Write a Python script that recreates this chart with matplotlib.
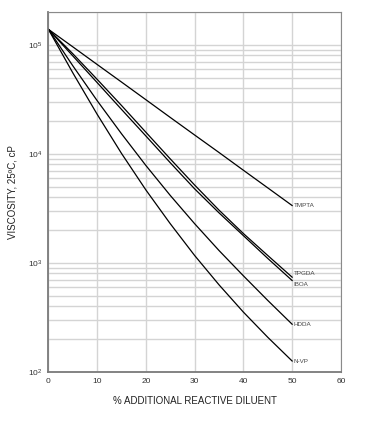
import numpy as np
import matplotlib
matplotlib.use('Agg')
import matplotlib.pyplot as plt
from matplotlib.ticker import LogLocator, FixedLocator

plt.rcParams['font.family'] = ['Liberation Sans', 'DejaVu Sans']

# % additional reactive diluent
diluent = [0, 5, 10, 15, 20, 25, 30, 35, 40, 45, 50]

# viscosity at 25 C, cP
tmpta = [139000, 96000, 66100, 45600, 31400, 21600, 14900, 10300, 7080, 4880, 3360]
tpgda = [139000, 83000, 48300, 27800, 15800, 9000, 5180, 3050, 1860, 1170, 740]
iboa = [139000, 79300, 45100, 25600, 14600, 8300, 4780, 2880, 1780, 1100, 690]
hdda = [139000, 64400, 30800, 15300, 7830, 4160, 2290, 1300, 762, 453, 274]
nvp = [139000, 55500, 23100, 10100, 4670, 2290, 1170, 630, 354, 208, 126]

series = [('TMPTA', tmpta, 0), ('TPGDA', tpgda, 3), ('IBOA', iboa, -3),
          ('HDDA', hdda, 0), ('N-VP', nvp, 0)]

fig = plt.figure(figsize=(3.75, 4.3), dpi=100)
ax = fig.add_axes([0.129, 0.135, 0.78, 0.837])

ax.set_yscale('log')
ax.set_xlim(0, 60)
ax.set_ylim(100, 200000)

# grid
ax.xaxis.set_major_locator(FixedLocator([0, 10, 20, 30, 40, 50, 60]))
ax.yaxis.set_major_locator(LogLocator(base=10, numticks=10))
ax.yaxis.set_minor_locator(LogLocator(base=10, subs=np.arange(2, 10), numticks=20))
ax.grid(True, which='major', color='#d4d4d4', linewidth=1.0)
ax.grid(True, which='minor', axis='y', color='#d4d4d4', linewidth=1.0)
ax.set_axisbelow(True)

for name, vals, dy in series:
    ax.plot(diluent, vals, color='black', linewidth=0.9)
    ax.annotate(name, (diluent[-1], vals[-1]), xytext=(1, dy), textcoords='offset points',
                fontsize=4.5, color='#444444', va='center', ha='left')

for side in ['left', 'bottom']:
    ax.spines[side].set_color('#7a7a7a')
    ax.spines[side].set_linewidth(1.3)
for side in ['top', 'right']:
    ax.spines[side].set_color('#8a8a8a')
    ax.spines[side].set_linewidth(0.8)

ax.tick_params(axis='both', which='both', length=0, labelsize=6, colors='#333333', pad=4)
ax.tick_params(axis='y', which='minor', labelleft=False)

ax.set_xlabel('% ADDITIONAL REACTIVE DILUENT', fontsize=7, color='#222222', labelpad=8)
ax.set_ylabel('VISCOSITY, 25ºC, cP', fontsize=7, color='#222222', labelpad=8)

fig.savefig('out.png', dpi=100)
